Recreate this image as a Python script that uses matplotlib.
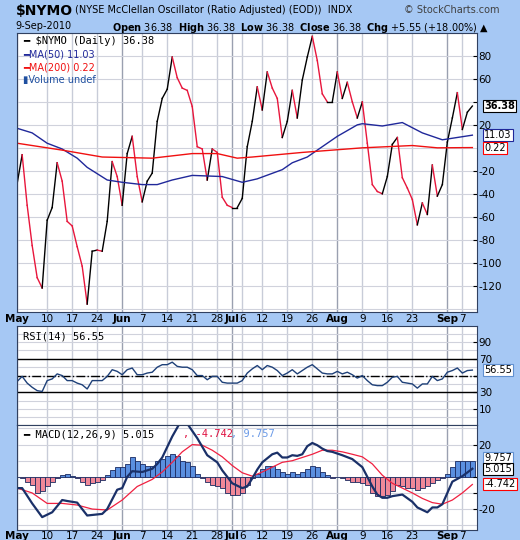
import matplotlib
matplotlib.use("Agg")
import matplotlib.pyplot as plt
import numpy as np

nymo = [-31, -6, -50, -85, -113, -122, -63, -52, -13, -29, -64, -68, -86, -103, -136, -90,
        -89, -90, -64, -12, -25, -50, -5, 10, -25, -47, -29, -22, 23, 43, 51, 79, 61, 52, 50,
        36, 1, -1, -28, -1, -4, -43, -50, -52, -52, -44, 1, 23, 53, 33, 66, 52, 43, 9,
        23, 50, 26, 59, 79, 97, 76, 47, 40, 40, 66, 43, 57, 40, 26, 40, 4, -32, -38, -40,
        -25, 3, 9, -26, -35, -45, -67, -48, -58, -15, -42, -32, 5, 26, 48, 16, 31, 36.38]
ma50_idx = [0, 3, 6, 9, 12, 14, 18, 21, 25, 28, 31, 35, 41, 45, 48, 53, 55, 58, 60, 64, 68, 69, 73, 77, 81, 85, 91]
ma50_val = [17, 13, 4, -1, -9, -17, -28, -30, -32, -32, -28, -24, -25, -30, -27, -19, -13, -8, -2, 10, 20, 21, 19, 22, 13, 7, 11.03]
ma200_idx = [0, 9, 17, 27, 35, 40, 44, 47, 57, 69, 79, 84, 91]
ma200_val = [4, -2, -8, -9, -5, -5, -9, -8, -4, 0, 2, 0, 0.22]
rsi = [43, 49, 41, 36, 32, 31, 44, 46, 52, 50, 44, 44, 41, 39, 34, 44, 44, 44, 49, 57, 55, 51, 57, 59,
       51, 51, 53, 54, 60, 63, 63, 66, 61, 60, 60, 57, 50, 50, 45, 49, 49, 42, 41, 41, 41, 44, 53,
       58, 62, 57, 62, 60, 56, 50, 53, 57, 52, 56, 60, 63, 58, 53, 52, 52, 55, 52, 54, 51, 47, 50,
       44, 39, 38, 38, 42, 48, 49, 42, 41, 40, 35, 40, 40, 49, 44, 46, 54, 56, 59, 53, 56, 56.55]
macd_idx = [0, 1, 3, 5, 7, 9, 10, 12, 14, 17, 18, 20, 21, 22, 23, 25, 27, 28, 29, 31, 33, 34, 36, 38, 40, 41,
            43, 45, 46, 47, 48, 49, 51, 52, 53, 54, 55, 56, 57, 58, 59, 60, 61, 62, 63, 65, 67, 69, 70, 71,
            72, 73, 74, 75, 77, 79, 80, 82, 83, 84, 85, 86, 87, 89, 91]
macd_val = [-7, -7, -16.5, -25, -22, -14.4, -15, -16, -24, -23, -20, -8, -7, 0, 3.5, 3, 5, 8, 12, 25, 36, 33,
            24, 13.4, 9, 4, -4, -7, -6, -1, 4.5, 9, 14, 15, 12, 12, 13.4, 13, 14, 19, 21, 19.6, 17.5, 16,
            15.5, 13.4, 11, 6, 0, -6, -11, -13, -13, -12, -11, -15.5, -19, -22, -19, -19, -17, -10, -3,
            0.4, 5.015]
sig_idx = [0, 3, 6, 9, 12, 15, 18, 21, 24, 27, 29, 31, 33, 35, 37, 39, 41, 43, 45, 47, 49, 51, 53, 55, 57, 59,
           61, 63, 65, 67, 69, 71, 73, 75, 77, 79, 81, 83, 85, 87, 89, 91]
sig_val = [-7, -10, -16.5, -16.5, -17.5, -20, -20.6, -14.4, -6, -1.6, 3, 9, 15.5, 20, 19.6, 16.5, 12.4, 7,
           2.5, 0.4, 3, 6, 9, 10, 12, 14, 16.5, 16.5, 15.5, 14, 12.4, 8, 1, -4, -7, -10, -13.4, -16, -17,
           -14.4, -10, -4.742]
hist = [0, -1, -3, -5, -10, -9, -6, -3, -1, 1, 1.5, 0.5, -1, -3, -5, -4, -3, -2, 1, 4.5, 6, 6, 8, 12, 10, 8,
        7, 7, 10, 11, 13, 14, 13, 10, 9, 7, 2, -1, -3, -5, -6, -7, -10, -11, -11, -10, -5, -1, 2, 5, 7, 7, 5,
        3, 2, 3, 2, 3, 5, 7, 6, 3, 1, -1, 0, -1, -2, -3, -3, -4, -5, -10, -12, -12, -11, -9, -5, -6, -7, -7,
        -8, -7, -6, -4, -2, -1, 2, 6, 10, 10, 10, 9.757]
tick_idx = [0, 6, 11, 16, 21, 25, 30, 35, 40, 43, 45, 49, 54, 59, 64, 69, 74, 79, 86, 89]
tick_lab = ["May", "10", "17", "24", "Jun", "7", "14", "21", "28", "Jul", "6", "12", "19", "26",
            "Aug", "9", "16", "23", "Sep", "7"]
month_idx = [0, 21, 43, 64, 86]

BG = "#a6c8f4"
fig = plt.figure(figsize=(5.2, 5.4), dpi=100, facecolor=BG)
x = np.arange(len(nymo))

def style(ax, yt, ylab, ylim, step):
    ax.set_xlim(0, 92)
    ax.set_ylim(*ylim)
    ax.set_facecolor("white")
    ax.yaxis.tick_right()
    ax.set_yticks(yt)
    ax.set_yticklabels(ylab)
    ax.tick_params(axis="y", labelsize=7.5, length=3, pad=1, direction="in")
    ax.tick_params(axis="x", length=0)
    for t in tick_idx:
        ax.axvline(t, color="#9aa0b0" if t in month_idx else "#c8ccd8", lw=1.0, zorder=0)
    for v in np.arange(-200, 200, step):
        ax.axhline(v, color="#d0d2dc", lw=0.8, zorder=0)
    for s in ax.spines.values():
        s.set_color("#304060")
    ax.set_xticks(tick_idx)

def xlabels(ax):
    ax.set_xticklabels(tick_lab, fontsize=7.5)
    for t, lab in zip(ax.get_xticklabels(), tick_lab):
        if not lab.isdigit():
            t.set_fontweight("bold")
    ax.tick_params(axis="x", pad=1)

def box(ax, v, lab, ec, fw="normal"):
    ax.annotate(lab, (1.0, v), xycoords=("axes fraction", "data"), xytext=(5, 0), textcoords="offset points",
                fontsize=7, fontweight=fw, va="center", zorder=10,
                bbox=dict(boxstyle="square,pad=0.1", fc="white", ec=ec, lw=0.8), annotation_clip=False)

# main
ax1 = fig.add_axes([0.033, 0.422, 0.885, 0.517])
yt1 = [-120, -100, -80, -60, -40, -20, 20, 40, 60, 80]
style(ax1, yt1, ["" if v == 40 else str(v) for v in yt1], (-143, 100), 20)
for i in range(len(nymo) - 1):
    c = "#e8163c" if nymo[i + 1] < nymo[i] else "black"
    ax1.plot(x[i:i + 2], nymo[i:i + 2], color=c, lw=1.0)
ax1.plot(ma50_idx, ma50_val, color="#20289a", lw=1.0)
ax1.plot(ma200_idx, ma200_val, color="#f01010", lw=1.0)
xlabels(ax1)
ax1.text(0.012, 0.99, "━ $NYMO (Daily) 36.38", transform=ax1.transAxes, fontsize=7.5, va="top", family="DejaVu Sans Mono")
ax1.text(0.012, 0.94, "━MA(50) 11.03", transform=ax1.transAxes, fontsize=7, va="top", color="#20289a")
ax1.text(0.012, 0.895, "━MA(200) 0.22", transform=ax1.transAxes, fontsize=7, va="top", color="#f01010")
ax1.text(0.012, 0.85, "▮Volume undef", transform=ax1.transAxes, fontsize=7, va="top", color="#2050a0")
box(ax1, 36.38, "36.38", "black", "bold")
box(ax1, 11.03, "11.03", "#20289a")
box(ax1, 0.22, "0.22", "red")

fig.text(0.03, 0.992, "$NYMO", fontsize=10, fontweight="bold", va="top")
fig.text(0.145, 0.99, "(NYSE McClellan Oscillator (Ratio Adjusted) (EOD))  INDX", fontsize=7, va="top")
fig.text(0.96, 0.99, "© StockCharts.com", fontsize=7, va="top", ha="right", color="#404040")
fig.text(0.03, 0.962, "9-Sep-2010", fontsize=7, va="top")
fig.text(0.215, 0.962, r"$\bf{Open}$ 36.38  $\bf{High}$ 36.38  $\bf{Low}$ 36.38  $\bf{Close}$ 36.38  $\bf{Chg}$ +5.55 (+18.00%) ▲",
         fontsize=7, va="top")

# RSI
ax2 = fig.add_axes([0.033, 0.213, 0.885, 0.183])
style(ax2, [10, 30, 50, 70, 90], ["10", "30", "", "70", "90"], (-9, 109), 10)
ax2.set_xticklabels([])
ax2.axhline(70, color="black", lw=1)
ax2.axhline(30, color="black", lw=1)
ax2.axhline(50, color="black", lw=1, ls="-.")
ax2.plot(x[:len(rsi)], rsi, color="#1e4078", lw=1.0)
ax2.text(0.012, 0.95, "RSI(14) 56.55", transform=ax2.transAxes, fontsize=7.5, va="top", family="DejaVu Sans Mono")
box(ax2, 56.55, "56.55", "#6090d0")

# MACD
ax3 = fig.add_axes([0.033, 0.0185, 0.885, 0.194])
style(ax3, [-20, -10, 0, 20], ["-20", "", "", "20"], (-33, 32), 10)
cols = ["#5a8fe0" if h >= 0 else "#f08898" for h in hist]
ax3.bar(x[:len(hist)], hist, width=1.0, color=cols, edgecolor="#1a2a60", lw=0.6)
ax3.plot(sig_idx, sig_val, color="#f02040", lw=0.9)
ax3.plot(macd_idx, macd_val, color="#1a3068", lw=1.6)
xlabels(ax3)
ax3.text(0.012, 0.96, "━ MACD(12,26,9) 5.015", transform=ax3.transAxes, fontsize=7.5, va="top", family="DejaVu Sans Mono")
ax3.text(0.36, 0.96, ", -4.742", transform=ax3.transAxes, fontsize=7.5, va="top", color="#e01040", family="DejaVu Sans Mono")
ax3.text(0.465, 0.96, ", 9.757", transform=ax3.transAxes, fontsize=7.5, va="top", color="#6a9ae8", family="DejaVu Sans Mono")
box(ax3, 11.5, "9.757", "#6090d0")
box(ax3, 5.015, "5.015", "black")
box(ax3, -4.742, "-4.742", "red")

fig.savefig("out.png", dpi=100, facecolor=BG)
